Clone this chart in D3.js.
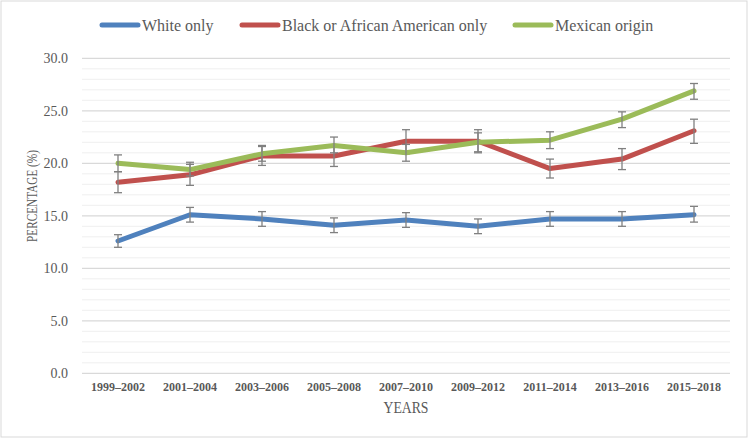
<!DOCTYPE html>
<html>
<head>
<meta charset="utf-8">
<script src="https://cdn.jsdelivr.net/npm/d3@7"></script>
<style>
  body { margin: 0; background: #fff; }
  text { font-family: "Liberation Serif", "DejaVu Serif", serif; fill: #595959; }
</style>
</head>
<body>
<script>
// data
var years = ["1999\u20132002", "2001\u20132004", "2003\u20132006", "2005\u20132008", "2007\u20132010",
             "2009\u20132012", "2011\u20132014", "2013\u20132016", "2015\u20132018"];

var white = [12.6, 15.1, 14.7, 14.1, 14.6, 14.0, 14.7, 14.7, 15.1];
var whiteLo = [12.0, 14.4, 14.0, 13.4, 13.9, 13.3, 14.0, 14.0, 14.4];
var whiteHi = [13.2, 15.8, 15.4, 14.8, 15.3, 14.7, 15.4, 15.4, 15.9];

var black = [18.2, 18.9, 20.7, 20.7, 22.1, 22.1, 19.5, 20.4, 23.1];
var blackLo = [17.2, 17.9, 19.8, 19.7, 20.9, 21.0, 18.6, 19.4, 21.9];
var blackHi = [19.2, 19.9, 21.6, 21.7, 23.2, 23.2, 20.4, 21.4, 24.2];

var mexican = [20.0, 19.4, 20.9, 21.7, 21.0, 22.0, 22.2, 24.2, 26.9];
var mexicanLo = [19.2, 18.8, 20.2, 21.0, 20.2, 21.1, 21.4, 23.4, 26.1];
var mexicanHi = [20.8, 20.1, 21.7, 22.5, 21.8, 22.9, 23.0, 24.9, 27.6];

var seriesNames = ["White only", "Black or African American only", "Mexican origin"];
var yTicks = [0, 5, 10, 15, 20, 25, 30];

var w = 750;
var h = 438;

var svg = d3.select("body")
    .append("svg")
    .attr("width", w)
    .attr("height", h);

// chart border
svg.append("rect")
    .attr("x", 1).attr("y", 1)
    .attr("width", 746).attr("height", 436)
    .attr("fill", "none")
    .attr("stroke", "#d9d9d9");

// plot area edges (named so they don't clash with window.top)
var pLeft = 82, pRight = 730, pTop = 58.3, pBottom = 373.3;

var xScale = d3.scaleBand()
    .domain(years)
    .range([pLeft, pRight]);

var yScale = d3.scaleLinear()
    .domain([0, 30])
    .range([pBottom, pTop]);

// minor gridlines every 1.0
svg.append("g")
    .selectAll("line")
    .data(d3.range(0, 31).filter(function(d) { return d % 5 != 0; }))
    .enter()
    .append("line")
    .attr("x1", pLeft).attr("x2", pRight)
    .attr("y1", function(d) { return yScale(d); })
    .attr("y2", function(d) { return yScale(d); })
    .attr("stroke", "#efefef")
    .attr("stroke-width", 1);

// major gridlines
svg.append("g")
    .selectAll("line")
    .data(yTicks)
    .enter()
    .append("line")
    .attr("x1", pLeft).attr("x2", pRight)
    .attr("y1", function(d) { return yScale(d); })
    .attr("y2", function(d) { return yScale(d); })
    .attr("stroke", "#d9d9d9")
    .attr("stroke-width", 1.2);

// y axis labels
var yAxis = d3.axisLeft(yScale)
    .tickValues(yTicks)
    .tickFormat(d3.format(".1f"))
    .tickSize(0)
    .tickPadding(14);

var gy = svg.append("g")
    .attr("transform", "translate(" + pLeft + ",0)")
    .call(yAxis);
gy.select(".domain").remove();
gy.selectAll("text")
    .style("font-size", "14px")
    .style("font-family", "Liberation Serif")
    .attr("fill", "#595959");

// x axis labels
var xAxis = d3.axisBottom(xScale).tickSize(0).tickPadding(9);
var gx = svg.append("g")
    .attr("transform", "translate(0," + pBottom + ")")
    .call(xAxis);
gx.select(".domain").remove();
gx.selectAll("text")
    .style("font-size", "12px")
    .style("font-weight", "bold")
    .style("font-family", "Liberation Serif")
    .attr("fill", "#595959");

// axis titles (the original font is condensed, so squeeze to its width)
svg.append("text")
    .attr("x", (pLeft + pRight) / 2)
    .attr("y", 413)
    .attr("text-anchor", "middle")
    .attr("textLength", 45)
    .attr("lengthAdjust", "spacingAndGlyphs")
    .style("font-size", "16px")
    .text("YEARS");

svg.append("text")
    .attr("transform", "translate(37,196) rotate(-90)")
    .attr("text-anchor", "middle")
    .attr("textLength", 92)
    .attr("lengthAdjust", "spacingAndGlyphs")
    .style("font-size", "14px")
    .text("PERCENTAGE (%)");

var series = [
    { name: seriesNames[0], vals: white, lo: whiteLo, hi: whiteHi, color: "#4f81bd" },
    { name: seriesNames[1], vals: black, lo: blackLo, hi: blackHi, color: "#c0504d" },
    { name: seriesNames[2], vals: mexican, lo: mexicanLo, hi: mexicanHi, color: "#9bbb59" }
];

var line = d3.line()
    .x(function(d, i) { return xScale(years[i]) + xScale.bandwidth() / 2; })
    .y(function(d) { return yScale(d); });

series.forEach(function(s) {
    svg.append("path")
        .datum(s.vals)
        .attr("d", line)
        .attr("fill", "none")
        .attr("stroke", s.color)
        .attr("stroke-width", 5)
        .attr("stroke-linecap", "round")
        .attr("stroke-linejoin", "round");

    var eb = svg.append("g")
        .selectAll("g")
        .data(s.vals)
        .enter()
        .append("g")
        .attr("stroke", "#808080")
        .attr("stroke-width", 1.3);

    eb.append("line")
        .attr("x1", function(d, i) { return xScale(years[i]) + xScale.bandwidth() / 2; })
        .attr("x2", function(d, i) { return xScale(years[i]) + xScale.bandwidth() / 2; })
        .attr("y1", function(d, i) { return yScale(s.lo[i]); })
        .attr("y2", function(d, i) { return yScale(s.hi[i]); });

    [s.lo, s.hi].forEach(function(arr) {
        eb.append("line")
            .attr("x1", function(d, i) { return xScale(years[i]) + xScale.bandwidth() / 2 - 4; })
            .attr("x2", function(d, i) { return xScale(years[i]) + xScale.bandwidth() / 2 + 4; })
            .attr("y1", function(d, i) { return yScale(arr[i]); })
            .attr("y2", function(d, i) { return yScale(arr[i]); });
    });
});

// legend
var legendX = [102, 242, 515];
var lg = svg.append("g")
    .selectAll("g")
    .data(series)
    .enter()
    .append("g")
    .attr("transform", function(d, i) { return "translate(" + legendX[i] + ",25)"; });

lg.append("line")
    .attr("x1", 0).attr("x2", 36)
    .attr("y1", 0).attr("y2", 0)
    .attr("stroke", function(d) { return d.color; })
    .attr("stroke-width", 5)
    .attr("stroke-linecap", "round");

lg.append("text")
    .attr("x", 40)
    .attr("y", 5.5)
    .style("font-size", "16px")
    .text(function(d) { return d.name; });
</script>
</body>
</html>
